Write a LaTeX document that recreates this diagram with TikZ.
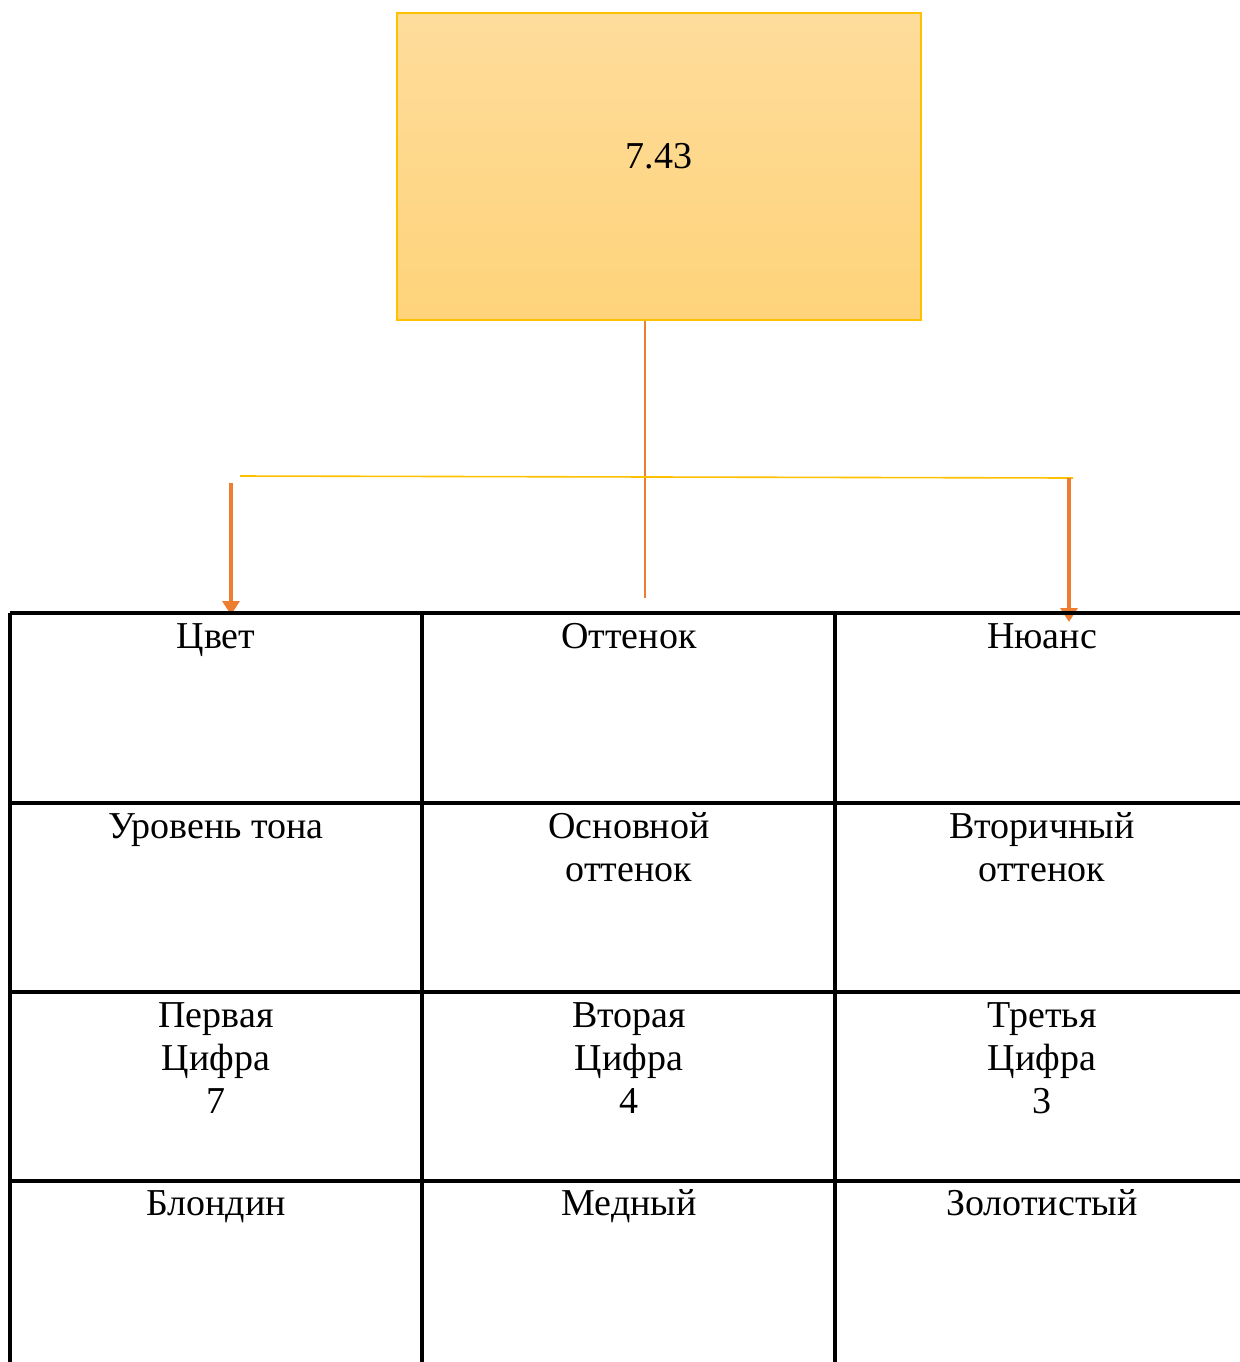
\documentclass[tikz,border=0pt]{standalone}
\usepackage{fontspec}
\setmainfont{Liberation Serif}
\usetikzlibrary{arrows.meta,positioning}
\definecolor{boxedge}{RGB}{255,192,0}
\definecolor{boxtop}{RGB}{254,220,155}
\definecolor{boxbottom}{RGB}{254,211,122}
\definecolor{linkorange}{RGB}{237,125,49}
\definecolor{linkyellow}{RGB}{255,192,0}

\begin{document}
\begin{tikzpicture}[x=0.5pt,y=-0.5pt,
		celltext/.style={anchor=base, align=center, inner sep=0pt, font=\fontsize{19}{21.5}\selectfont},
		rootbox/.style={draw=boxedge, line width=0.6pt, top color=boxtop, bottom color=boxbottom,
			minimum width=262pt, minimum height=153.5pt, text height=10pt, text depth=8.5pt,
			inner sep=0pt, font=\fontsize{19}{21.5}\selectfont},
		gridline/.style={line width=1.6pt, black},
		stem/.style={linkorange, line width=0.7pt},
		bar/.style={linkyellow, line width=0.8pt},
		link/.style={linkorange, line width=1.6pt, -{Triangle[width=8.5pt,length=7pt]}}]
		\useasboundingbox (0,0) rectangle (1239,1362);
		% top box
		\node[rootbox] (root) at (659,166.5) {7.43};
		% connectors
		\coordinate (stemEnd) at (645,598);
		\coordinate (barL) at (240,476);
		\coordinate (barR) at (1073,478);
		\coordinate (leftTop) at (231,483);
		\coordinate (rightTop) at (1069,478);
		\coordinate (cvetIn) at (231,615);
		\coordinate (nuansIn) at (1069,622);
		\draw [stem] (root.south -| stemEnd) -- (stemEnd);
		\draw [bar] (barL) -- (barR);
		\draw [link] (leftTop) -- (cvetIn);
		\draw [link] (rightTop) -- (nuansIn);
		% table
		\foreach \y in {613,803,992,1181}
		{
			\draw [gridline] (10,\y) -- (1250,\y);
		}
		\foreach \x in {10,422,835}
		{
			\draw [gridline] (\x,613) -- (\x,1372);
		}
		% cell texts (base = last line)
		\node[celltext] (cvet) at (216,648) {Цвет};
		\node[celltext] (ottenok) at (629,648) {Оттенок};
		\node[celltext] (nuans) at (1042,648) {Нюанс};
		\node[celltext] (uroven) at (216,838) {Уровень тона};
		\node[celltext] (osnovnoy) at (629,881) {Основной\\оттенок};
		\node[celltext] (vtorichny) at (1042,881) {Вторичный\\оттенок};
		\node[celltext] (pervaya) at (216,1113) {Первая\\Цифра\\7};
		\node[celltext] (vtoraya) at (629,1113) {Вторая\\Цифра\\4};
		\node[celltext] (tretya) at (1042,1113) {Третья\\Цифра\\3};
		\node[celltext] (blondin) at (216,1215) {Блондин};
		\node[celltext] (medny) at (629,1215) {Медный};
		\node[celltext] (zolotisty) at (1042,1215) {Золотистый};
\end{tikzpicture}
\end{document}
